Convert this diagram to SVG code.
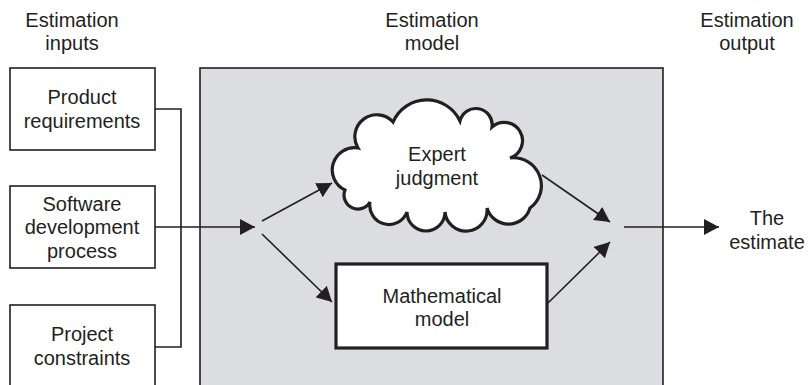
<svg xmlns="http://www.w3.org/2000/svg" width="810" height="385" viewBox="0 0 810 385">
<style>
text{font-family:"Liberation Sans",Arial,sans-serif;font-size:20px;fill:#231f20;text-anchor:middle}
.box{fill:#fff;stroke:#231f20;stroke-width:1.6}
.ln{fill:none;stroke:#231f20;stroke-width:1.6}
.thick{fill:#fff;stroke:#231f20;stroke-width:3.2}
</style>
<defs>
<marker id="ah" markerUnits="userSpaceOnUse" markerWidth="16" markerHeight="16" viewBox="0 0 16 16" refX="15" refY="8" orient="auto">
<path d="M0,0 L15,8 L0,16 Z" fill="#231f20"/>
</marker>
</defs>
<rect x="0" y="0" width="810" height="385" fill="#fff"/>
<g id="titles">
<text x="72" y="27">Estimation</text><text x="72" y="50">inputs</text>
<text x="432" y="27">Estimation</text><text x="432" y="50">model</text>
<text x="747" y="27">Estimation</text><text x="747" y="50">output</text>
</g>
<g id="model-area"><rect x="200" y="68" width="463" height="330" fill="#dcdde0" stroke="#231f20" stroke-width="1.6"/></g>
<g id="product-requirements"><rect class="box" x="10" y="68" width="145" height="82"/><text x="82" y="104">Product</text><text x="82" y="128">requirements</text></g>
<g id="software-process"><rect class="box" x="10" y="186" width="145" height="82"/><text x="82" y="211">Software</text><text x="82" y="234">development</text><text x="82" y="258">process</text></g>
<g id="project-constraints"><rect class="box" x="10" y="305" width="145" height="95"/><text x="82" y="341">Project</text><text x="82" y="365">constraints</text></g>
<g id="expert-judgment">
<path class="thick" d="M345,190 A22.2,22.2 0 0 1 358,148 A21.9,21.9 0 0 1 393,122 A36.8,36.8 0 0 1 460,121 A16.3,16.3 0 0 1 492,127 A18.3,18.3 0 1 1 510,158 A27.8,27.8 0 0 1 530,208 A22.4,22.4 0 0 1 487,208 A21,21 0 0 1 445,212 A19,19 0 0 1 407,212 A19.25,19.25 0 0 1 370,202 A13.9,13.9 0 0 1 345,190 Z"/>
<text x="437" y="161">Expert</text><text x="437" y="185">judgment</text>
</g>
<g id="mathematical-model"><rect class="thick" x="336" y="264" width="211" height="84"/><text x="442" y="303">Mathematical</text><text x="442" y="326">model</text></g>
<g id="the-estimate"><text x="767" y="225">The</text><text x="767" y="249">estimate</text></g>
<g id="connectors">
<path class="ln" d="M155,109 H181 V347 H155"/>
<path class="ln" d="M155,227 H255" marker-end="url(#ah)"/>
<path class="ln" d="M262,221 L332,183" marker-end="url(#ah)"/>
<path class="ln" d="M262,234 L332,302" marker-end="url(#ah)"/>
<path class="ln" d="M542,175 L610,222" marker-end="url(#ah)"/>
<path class="ln" d="M548,303 L610,242" marker-end="url(#ah)"/>
<path class="ln" d="M624,227 H719" marker-end="url(#ah)"/>
</g>
</svg>
